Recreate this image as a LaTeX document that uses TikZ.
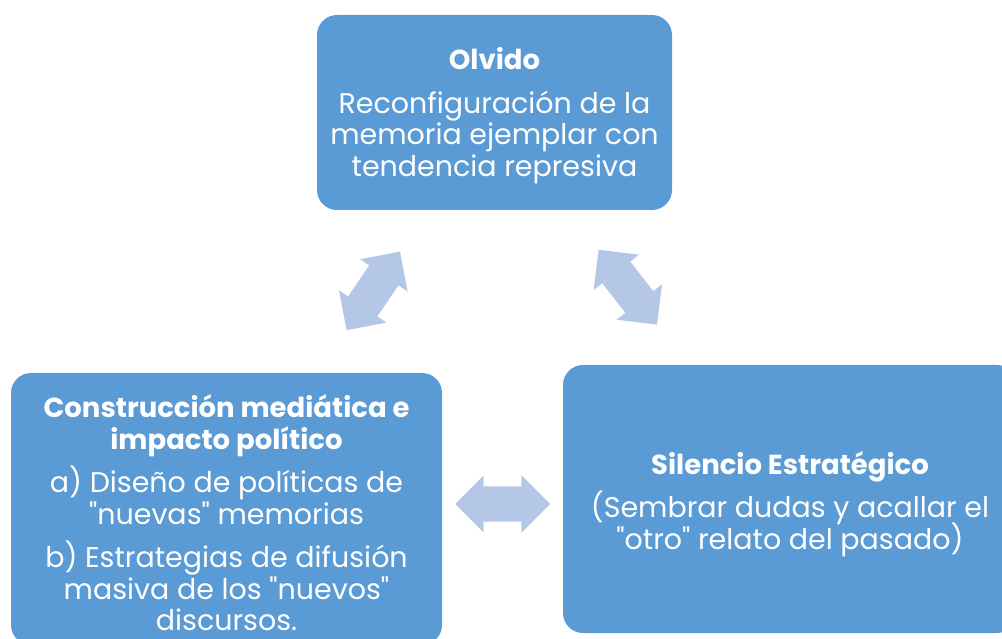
\documentclass[tikz,border=0pt]{standalone}
\usepackage{fontspec}
\setmainfont{Poppins}[Ligatures=TeXOff]
\usetikzlibrary{shapes.arrows,positioning,calc}
\definecolor{cajaazul}{HTML}{5B9BD5}
\definecolor{flechaazul}{HTML}{B4C7E7}
\newcommand{\titulo}[1]{{\fontsize{27.5}{32}\selectfont\bfseries #1}}
\newcommand{\letracaja}{\fontsize{28.5}{31.5}\selectfont\lineskiplimit=-100pt\relax}
\tikzset{
  caja/.style={fill=cajaazul, rounded corners=20pt, inner sep=0pt},
  texto/.style={text=white, align=center, inner sep=0pt, font=\letracaja},
  flecha/.style={double arrow, fill=flechaazul, inner xsep=0pt, inner ysep=17.5pt,
    double arrow head extend=11pt, minimum width=57pt, minimum height=95pt}
}
\begin{document}
\begin{tikzpicture}[x=1pt,y=1pt]
  \clip (0,0) rectangle (1002,638);
  % cajas
  \node[caja, minimum width=355pt, minimum height=195pt,
    label={[texto, yshift=-3pt]center:{\titulo{Olvido}\\[12pt] Reconfiguración de la\\
      memoria ejemplar con\\ tendencia represiva}}] (olvido) at (494.5,525.5) {};
  \node[caja, minimum width=431pt, minimum height=272pt,
    label={[texto, yshift=-4pt]center:{\titulo{Construcción mediática e}\\ \titulo{impacto político}\\[12pt]
      a) Diseño de políticas de\\ "nuevas" memorias\\[12pt]
      b) Estrategias de difusión\\ masiva de los "nuevos"\\ discursos.}}] (construccion) at (226.5,129) {};
  \node[caja, minimum width=454pt, minimum height=268pt,
    label={[texto, yshift=-5pt]center:{\titulo{Silencio Estratégico}\\[12pt]
      (Sembrar dudas y acallar el\\ "otro" relato del pasado)}}] (silencio) at (790,139) {};
  % flechas
  \node[flecha, rotate=55.8] (f1) at (373.3,347.1) {};
  \node[flecha, rotate=-52.1] (f2) at (627.8,350.8) {};
  \node[flecha] (f3) at ($(construccion.east)!.5!(silencio.west)$) {};
\end{tikzpicture}
\end{document}
